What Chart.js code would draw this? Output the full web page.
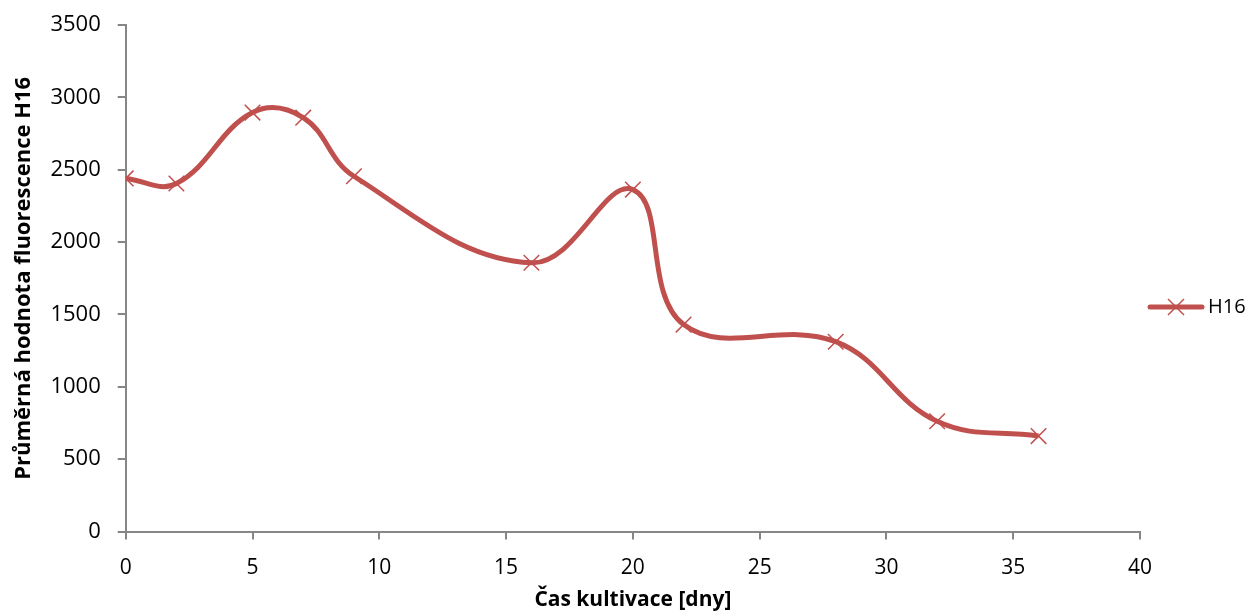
<!DOCTYPE html>
<html lang="cs">
<head>
    <meta charset="UTF-8">
    <title>H16</title>
    <style>
        html, body { margin: 0; padding: 0; background: #fff; }
        canvas { display: block; }
    </style>
</head>
<body>
    <canvas id="chart" width="1254" height="613"></canvas>

    <script src="https://cdn.jsdelivr.net/npm/chart.js@4.4.1/dist/chart.umd.min.js"></script>
    <script>
        // data
        var days = [0, 2, 5, 7, 9, 16, 20, 22, 28, 32, 36];
        var h16 = [2440, 2405, 2895, 2860, 2455, 1857, 2363, 1430, 1312, 762, 660];
        var xTicks = [0, 5, 10, 15, 20, 25, 30, 35, 40];
        var yTicks = [0, 500, 1000, 1500, 2000, 2500, 3000, 3500];

        var red = '#C0504D';
        var axisGray = '#868686';
        var font = "'Open Sans', Lato, sans-serif";

        // small outward tick marks on both axes, placed by the scales
        var outerTicks = {
            id: 'outerTicks',
            afterDraw: function(chart) {
                var ctx = chart.ctx;
                var xs = chart.scales.x, ys = chart.scales.y;
                var len = 8;
                ctx.save();
                ctx.strokeStyle = axisGray;
                ctx.lineWidth = 2;
                ctx.beginPath();
                xTicks.forEach(function(v) {
                    var px = Math.round(xs.getPixelForValue(v));
                    ctx.moveTo(px, chart.chartArea.bottom);
                    ctx.lineTo(px, chart.chartArea.bottom + len);
                });
                yTicks.forEach(function(v) {
                    var py = Math.round(ys.getPixelForValue(v));
                    ctx.moveTo(chart.chartArea.left, py);
                    ctx.lineTo(chart.chartArea.left - len, py);
                });
                ctx.stroke();
                ctx.restore();
            }
        };

        // legend drawn by hand: thick line with a cross on it, right side
        var sideLegend = {
            id: 'sideLegend',
            afterDraw: function(chart) {
                var ctx = chart.ctx;
                var ds = chart.data.datasets[0];
                var y = 307;
                var x0 = 1150, x1 = 1202;
                ctx.save();
                ctx.strokeStyle = ds.borderColor;
                ctx.lineWidth = 5;
                ctx.lineCap = 'round';
                ctx.beginPath();
                ctx.moveTo(x0, y);
                ctx.lineTo(x1, y);
                ctx.stroke();
                var cx = (x0 + x1) / 2, r = 8;
                ctx.lineWidth = 1.5;
                ctx.lineCap = 'butt';
                ctx.beginPath();
                ctx.moveTo(cx - r, y - r);
                ctx.lineTo(cx + r, y + r);
                ctx.moveTo(cx - r, y + r);
                ctx.lineTo(cx + r, y - r);
                ctx.stroke();
                ctx.fillStyle = '#000';
                ctx.font = '20px ' + font;
                ctx.textBaseline = 'middle';
                ctx.fillText(ds.label, 1208, y);
                ctx.restore();
            }
        };

        var gridOpts = { display: false, drawTicks: false };

        var ctx = document.getElementById('chart').getContext('2d');
        new Chart(ctx, {
            type: 'line',
            data: {
                datasets: [{
                    label: 'H16',
                    data: days.map(function(d, i) { return { x: d, y: h16[i] }; }),
                    borderColor: red,
                    backgroundColor: red,
                    borderWidth: 5,
                    tension: 0.4,
                    pointStyle: 'crossRot',
                    pointRadius: 11,
                    pointBorderWidth: 1.5,
                    pointBorderColor: red,
                    fill: false
                }]
            },
            options: {
                responsive: false,
                animation: false,
                devicePixelRatio: 1,
                layout: { padding: { left: 11, right: 114, top: 25, bottom: 0 } },
                plugins: {
                    legend: { display: false },
                    tooltip: { enabled: false }
                },
                scales: {
                    x: {
                        type: 'linear',
                        min: xTicks[0],
                        max: xTicks[xTicks.length - 1],
                        grid: gridOpts,
                        border: { display: true, color: axisGray, width: 2 },
                        ticks: { stepSize: xTicks[1] - xTicks[0], color: '#000', font: { family: font, size: 21 }, padding: 24, maxRotation: 0,
                                 callback: function(v) { return String(v); } },
                        title: { display: true, text: 'Čas kultivace [dny]', color: '#000', font: { family: font, size: 21, weight: 'bold' }, padding: { top: -17, bottom: 0 } }
                    },
                    y: {
                        min: yTicks[0],
                        max: yTicks[yTicks.length - 1],
                        grid: gridOpts,
                        border: { display: true, color: axisGray, width: 2 },
                        // the big label gap should not push the plot top down
                        afterFit: function(scale) { scale.paddingTop = 0; },
                        ticks: { stepSize: yTicks[1] - yTicks[0], color: '#000', font: { family: font, size: 22 }, padding: 25,
                                 callback: function(v) { return String(v); } },
                        title: { display: true, text: 'Průměrná hodnota fluorescence H16', color: '#000', font: { family: font, size: 22, weight: 'bold' }, padding: { top: 0, bottom: -12 } }
                    }
                }
            },
            plugins: [outerTicks, sideLegend]
        });
    </script>
</body>
</html>
